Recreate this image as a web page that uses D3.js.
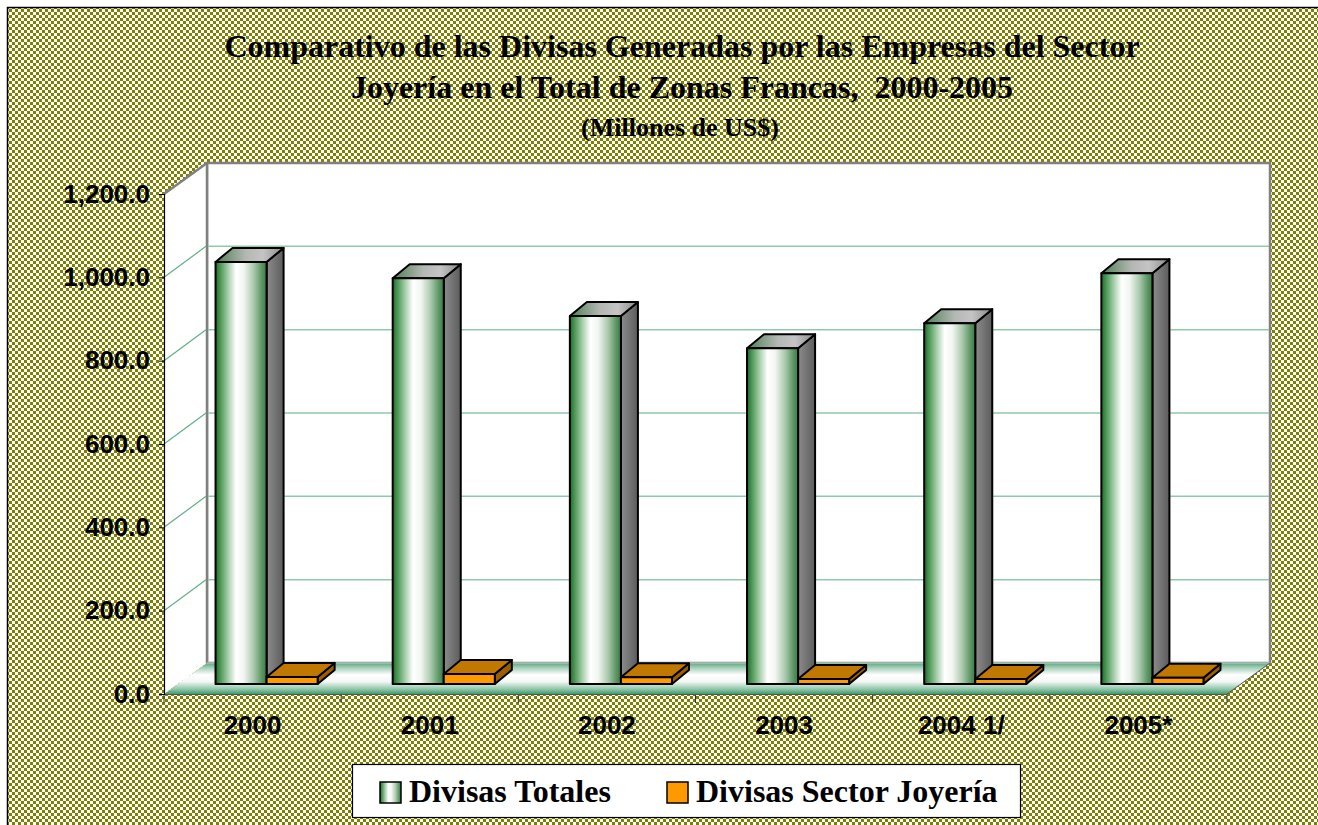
<!DOCTYPE html>
<html lang="es">
<head>
<meta charset="UTF-8">
<title>Divisas Zonas Francas 2000-2005</title>
<style>
  * { margin: 0; padding: 0; }
  body { background: #fff; }
  svg { display: block; }
</style>
</head>
<body>
<div id="chart-area"></div>
<script src="https://cdn.jsdelivr.net/npm/d3@7/dist/d3.min.js"></script>
<script>
const categories = ['2000', '2001', '2002', '2003', '2004 1/', '2005*']
const divisasTotales = [1013, 974, 883, 806, 866, 986]
const divisasJoyeria = [17, 24, 16, 12, 12, 15]
const seriesNames = ['Divisas Totales', 'Divisas Sector Joyería']
const yTicks = [0, 200, 400, 600, 800, 1000, 1200]
const titleLines = [
  'Comparativo de las Divisas Generadas por las Empresas del Sector',
  'Joyería en el Total de Zonas Francas,  2000-2005'
]
const subTitle = '(Millones de US$)'

const width = 1318
const height = 825
const serif = '"Liberation Serif", "Times New Roman", serif'
const sans = '"Liberation Sans", Arial, sans-serif'

// 3d offsets
const wallDx = 43, wallDy = -31
const barDx = 14, barDy = -10
const depthDx = 17, depthDy = -14

const svg = d3.select('#chart-area').append('svg')
  .attr('width', width)
  .attr('height', height)

const defs = svg.append('defs')

const pat = defs.append('pattern')
  .attr('id', 'bgPat')
  .attr('patternUnits', 'userSpaceOnUse')
  .attr('width', 6).attr('height', 6)
pat.append('rect').attr('width', 6).attr('height', 6).attr('fill', '#ffffff')
pat.append('rect').attr('width', 3).attr('height', 3).attr('fill', '#808000')
pat.append('rect').attr('x', 3).attr('y', 3).attr('width', 3).attr('height', 3).attr('fill', '#808000')

function linGrad(id, stops, vertical) {
  const g = defs.append('linearGradient').attr('id', id)
    .attr('x1', 0).attr('y1', 0)
    .attr('x2', vertical ? 0 : 1).attr('y2', vertical ? 1 : 0)
  stops.forEach(s => g.append('stop').attr('offset', s[0]).attr('stop-color', s[1]))
  return g
}
linGrad('greenFront', [[0, '#1f6b2a'], [0.1, '#4f9a57'], [0.25, '#a9cfae'], [0.4, '#ffffff'],
  [0.55, '#f2f6f2'], [0.75, '#a8c8ac'], [0.9, '#5f9866'], [1, '#3b7a44']])
linGrad('greenTop', [[0, '#4f7f55'], [0.45, '#b4b8b4'], [0.7, '#c4c4c4'], [1, '#8a8a8a']])
linGrad('greenSide', [[0, '#8c8c8c'], [1, '#5c5c5c']])

// scales
const x = d3.scaleBand().domain(categories).range([164, 1227])
const sub = d3.scaleBand().domain(seriesNames).range([0, x.bandwidth()])
  .paddingInner(0).paddingOuter(0.735)
const y = d3.scaleLinear().domain([0, 1200]).range([694, 194])

const x0 = 164, x1 = 1227

linGrad('floorGrad', [[0, '#5aa57e'], [0.15, '#a3cfb8'], [0.38, '#ffffff'], [0.6, '#f3f8f5'],
  [0.85, '#8cc4a6'], [1, '#3f9a6b']], true)
  .attr('gradientUnits', 'userSpaceOnUse')
  .attr('y1', y(0) + wallDy).attr('y2', y(0))

// chart area
svg.append('rect')
  .attr('x', 7.5).attr('y', 7.5)
  .attr('width', width + 20).attr('height', height + 20)
  .attr('fill', 'url(#bgPat)')
  .attr('stroke', '#000').attr('stroke-width', 1.5)

// title
const title = svg.append('g')
  .attr('font-family', serif).attr('font-weight', 'bold')
  .attr('text-anchor', 'middle').attr('fill', '#000')
title.selectAll('text.t').data(titleLines).enter().append('text')
  .attr('class', 't')
  .attr('xml:space', 'preserve')
  .attr('x', 682)
  .attr('y', (d, i) => 57 + i * 41)
  .attr('font-size', 32)
  .text(d => d)
title.append('text')
  .attr('x', 680).attr('y', 136)
  .attr('font-size', 26)
  .text(subTitle)

// back wall
svg.append('rect')
  .attr('x', x0 + wallDx).attr('y', y(1200) + wallDy)
  .attr('width', x1 - x0).attr('height', y(0) - y(1200))
  .attr('fill', '#fff')
  .attr('stroke', '#808080').attr('stroke-width', 2.5)

// side wall
svg.append('path')
  .attr('d', `M${x0},${y(1200)} L${x0 + wallDx},${y(1200) + wallDy} L${x0 + wallDx},${y(0) + wallDy} L${x0},${y(0)} Z`)
  .attr('fill', '#fff')
  .attr('stroke', 'none')
svg.append('line')
  .attr('x1', x0).attr('y1', y(1200))
  .attr('x2', x0 + wallDx).attr('y2', y(1200) + wallDy)
  .attr('stroke', '#808080').attr('stroke-width', 2.5)
svg.append('line')
  .attr('x1', x0 + wallDx).attr('y1', y(1200) + wallDy)
  .attr('x2', x0 + wallDx).attr('y2', y(0) + wallDy)
  .attr('stroke', '#808080').attr('stroke-width', 2.5)

// gridlines
const grid = yTicks.filter(d => d > 0 && d < 1200)
svg.selectAll('line.gb').data(grid).enter().append('line')
  .attr('class', 'gb')
  .attr('x1', x0 + wallDx + 1).attr('x2', x1 + wallDx - 1)
  .attr('y1', d => y(d) + wallDy).attr('y2', d => y(d) + wallDy)
  .attr('stroke', '#8fc9ac').attr('stroke-width', 1.5)
svg.selectAll('line.gs').data(grid).enter().append('line')
  .attr('class', 'gs')
  .attr('x1', x0).attr('y1', d => y(d))
  .attr('x2', x0 + wallDx - 1).attr('y2', d => y(d) + wallDy)
  .attr('stroke', '#5fb08a').attr('stroke-width', 1.2)

// floor
svg.append('path')
  .attr('d', `M${x0},${y(0)} L${x1},${y(0)} L${x1 + wallDx},${y(0) + wallDy} L${x0 + wallDx},${y(0) + wallDy} Z`)
  .attr('fill', 'url(#floorGrad)')
svg.append('line')
  .attr('x1', x0 + wallDx).attr('x2', x1 + wallDx)
  .attr('y1', y(0) + wallDy).attr('y2', y(0) + wallDy)
  .attr('stroke', '#a9c4b4').attr('stroke-width', 1.5)
svg.append('line')
  .attr('x1', x1).attr('y1', y(0))
  .attr('x2', x1 + wallDx).attr('y2', y(0) + wallDy)
  .attr('stroke', '#555').attr('stroke-width', 1)

// bars
const bars = []
categories.forEach((c, i) => {
  bars.push({ cat: c, s: seriesNames[0], v: divisasTotales[i] })
  bars.push({ cat: c, s: seriesNames[1], v: divisasJoyeria[i] })
})
const faceFill = {
  'Divisas Totales': ['url(#greenFront)', 'url(#greenTop)', 'url(#greenSide)'],
  'Divisas Sector Joyería': ['#ff9900', '#c07800', '#9c5e00']
}
const barG = svg.selectAll('g.bar').data(bars).enter().append('g')
  .attr('class', 'bar')
  .attr('stroke', '#000').attr('stroke-width', 2).attr('stroke-linejoin', 'round')
barG.each(function (d) {
  const g = d3.select(this)
  const bx0 = x(d.cat) + sub(d.s) + barDx
  const bx1 = bx0 + sub.bandwidth()
  const top = y(d.v) + barDy
  const bot = y(0) + barDy
  const f = faceFill[d.s]
  g.append('path')
    .attr('d', `M${bx1},${top} L${bx1 + depthDx},${top + depthDy} L${bx1 + depthDx},${bot + depthDy} L${bx1},${bot} Z`)
    .attr('fill', f[2])
  g.append('path')
    .attr('d', `M${bx0},${top} L${bx1},${top} L${bx1 + depthDx},${top + depthDy} L${bx0 + depthDx},${top + depthDy} Z`)
    .attr('fill', f[1])
  g.append('rect')
    .attr('x', bx0).attr('y', top)
    .attr('width', bx1 - bx0).attr('height', bot - top)
    .attr('fill', f[0])
})

// floor front edge + category ticks
svg.append('line')
  .attr('x1', x0).attr('x2', x1)
  .attr('y1', y(0) + 0.5).attr('y2', y(0) + 0.5)
  .attr('stroke', '#555').attr('stroke-width', 1.2)
const bounds = categories.map(c => x(c)).concat([x1])
svg.selectAll('line.ct').data(bounds).enter().append('line')
  .attr('class', 'ct')
  .attr('x1', d => d).attr('x2', d => d)
  .attr('y1', y(0) + 1).attr('y2', y(0) + 9)
  .attr('stroke', '#333').attr('stroke-width', 1)

// y axis
const yAxis = svg.append('g')
  .attr('transform', `translate(${x0},0)`)
  .call(d3.axisLeft(y).tickValues(yTicks).tickFormat(d3.format(',.1f')).tickSize(5).tickPadding(9))
yAxis.select('.domain').attr('stroke', '#000').attr('stroke-width', 1.2)
yAxis.selectAll('.tick line').attr('stroke', '#000')
yAxis.selectAll('.tick text')
  .attr('font-family', sans).attr('font-weight', 'bold').attr('font-size', 26).attr('fill', '#000')

// x axis labels
const xAxis = svg.append('g')
  .attr('transform', `translate(0,${y(0) + 1})`)
  .call(d3.axisBottom(x).tickSize(0).tickPadding(21))
xAxis.select('.domain').remove()
xAxis.selectAll('.tick text')
  .attr('font-family', sans).attr('font-weight', 'bold').attr('font-size', 26).attr('fill', '#000')

// legend
const leg = svg.append('g')
leg.append('rect')
  .attr('x', 352.5).attr('y', 764.5).attr('width', 668).attr('height', 53)
  .attr('fill', '#fff').attr('stroke', '#000').attr('stroke-width', 1.2)
const legX = [380, 667]
const legItems = leg.selectAll('g.li').data(seriesNames).enter().append('g')
  .attr('class', 'li')
  .attr('transform', (d, i) => `translate(${legX[i]},782)`)
legItems.append('rect')
  .attr('width', 21).attr('height', 21)
  .attr('fill', d => faceFill[d][0])
  .attr('stroke', '#000').attr('stroke-width', 1.5)
legItems.append('text')
  .attr('x', 29).attr('y', 20)
  .attr('font-family', serif).attr('font-weight', 'bold').attr('font-size', 32)
  .text(d => d)
</script>
</body>
</html>
